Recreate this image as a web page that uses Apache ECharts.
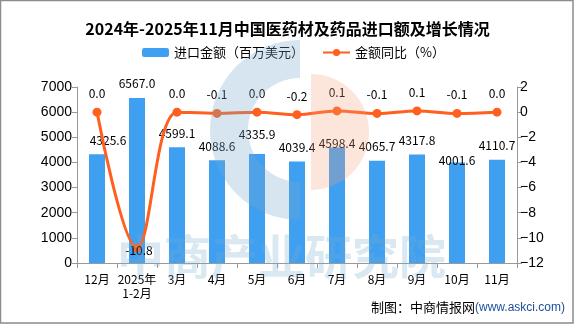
<!DOCTYPE html>
<html><head><meta charset="utf-8">
<script src="https://cdn.jsdelivr.net/npm/echarts@6/dist/echarts.min.js"></script>
<style>html,body{margin:0;padding:0;background:#fff}#c{width:575px;height:324px}</style>
</head><body><div id="c"></div>
<script>
const categories = ['12月','2025年\n1-2月','3月','4月','5月','6月','7月','8月','9月','10月','11月'];
const importValues = [4325.6, 6567.0, 4599.1, 4088.6, 4335.9, 4039.4, 4598.4, 4065.7, 4317.8, 4001.6, 4110.7];
const yoyValues = [0.0, -10.8, 0.0, -0.1, 0.0, -0.2, 0.1, -0.1, 0.1, -0.1, 0.0];
const leftTicks = [0, 7000, 1000];
const rightTicks = [-12, 2, 2];

const FONT = '"Noto Sans CJK SC", sans-serif';
const BAR = '#3f9ff1';
const LINE = '#ff5f1f';

const barLabelOffsets = {0:[11,0], 4:[0,-6], 6:[0,10], 9:[0,12]};
const barData = importValues.map((v,i)=> barLabelOffsets[i] ? {value:v, label:{offset:barLabelOffsets[i]}} : v);
const lineData = yoyValues.map((v,i)=> i===1 ? {value:v, label:{position:'inside', offset:[2,3]}} : v);

const chart = echarts.init(document.getElementById('c'));
chart.setOption({
  animation:false,
  backgroundColor:'#fff',
  title:{text:'2024年-2025年11月中国医药材及药品进口额及增长情况', left:'center', top:16,
    textStyle:{fontFamily:FONT, fontSize:16, fontWeight:'bold', color:'#000'}},
  legend:{left:137, top:41, itemWidth:27, itemHeight:9, itemGap:18,
    textStyle:{fontFamily:FONT, fontSize:13, color:'#000'},
    data:['进口金额（百万美元）','金额同比（%）']},
  grid:{left:77, right:58, top:87, bottom:61},
  xAxis:{type:'category', data:categories,
    axisLine:{lineStyle:{color:'#999'}},
    axisTick:{show:true, length:5, lineStyle:{color:'#999'}},
    axisLabel:{fontFamily:FONT, fontSize:12, color:'#000', margin:9, lineHeight:14, interval:0}},
  yAxis:[
    {type:'value', min:leftTicks[0], max:leftTicks[1], interval:leftTicks[2],
     axisLine:{show:true, lineStyle:{color:'#999'}},
     axisTick:{show:true, length:5, lineStyle:{color:'#999'}},
     splitLine:{show:false},
     axisLabel:{fontFamily:'"Liberation Sans", Arial, sans-serif', fontSize:14, color:'#000', margin:5,
       formatter:v=>String(v)}},
    {type:'value', min:rightTicks[0], max:rightTicks[1], interval:rightTicks[2],
     axisLine:{show:true, lineStyle:{color:'#999'}},
     axisTick:{show:true, length:5, lineStyle:{color:'#999'}},
     splitLine:{show:false},
     axisLabel:{fontFamily:'"Liberation Sans", Arial, sans-serif', fontSize:14, color:'#000', margin:3,
       formatter:v=>String(v).replace('-','\u2212')}}
  ],
  series:[
    {name:'进口金额（百万美元）', type:'bar', data:barData, barWidth:16, yAxisIndex:0,
     itemStyle:{color:BAR},
     label:{show:true, position:'top', distance:8, fontFamily:FONT, fontSize:12, color:'#000',
       formatter:p=>p.value.toFixed(1)}},
    {name:'金额同比（%）', type:'line', data:lineData, yAxisIndex:1, smooth:0.35,
     symbol:'circle', symbolSize:9,
     lineStyle:{color:LINE, width:3}, itemStyle:{color:LINE},
     label:{show:true, position:'top', distance:8, fontFamily:FONT, fontSize:12, color:'#000',
       formatter:p=>p.value.toFixed(1)}}
  ],
  graphic:[
    {type:'sector', z:100, silent:true, shape:{cx:300, cy:130, r:90, r0:52, startAngle:Math.PI/2, endAngle:Math.PI*1.5},
     style:{fill:'rgba(120,170,205,0.3)'}},
    {type:'sector', z:100, silent:true, shape:{cx:311, cy:132, r:58, r0:0, startAngle:-Math.PI/2, endAngle:Math.PI/2},
     style:{fill:'rgba(245,160,120,0.27)'}},
    {type:'text', z:100, silent:true, left:117, top:233,
     style:{text:'中商产业研究院', font:'bold 47px "Noto Sans CJK SC"', fill:'rgba(120,170,205,0.27)'}},
    {type:'text', right:10, top:301,
     style:{text:'{a|制图：中商情报网}{b|(www.askci.com)}',
       rich:{a:{fontFamily:FONT, fontSize:13, fill:'#000'}, b:{fontFamily:'"Liberation Sans", Arial', fontSize:12, fill:'#1e4f9c'}}}},
    {type:'rect', silent:true, shape:{x:0.5, y:0.5, width:572.5, height:322.5},
     style:{fill:'none', stroke:'#8c8c8c', lineWidth:1.5}}
  ]
});
</script></body></html>
